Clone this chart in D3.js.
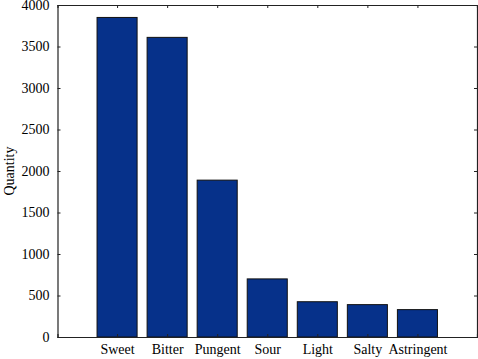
<!DOCTYPE html>
<html>
<head>
<meta charset="utf-8">
<script src="https://cdn.jsdelivr.net/npm/d3@7"></script>
<style>
  body { margin: 0; background: #fff; }
  svg text { font-family: "Liberation Serif", "DejaVu Serif", serif; fill: #000; }
</style>
</head>
<body>
<div id="chart"></div>
<script>
const categories = ["Sweet", "Bitter", "Pungent", "Sour", "Light", "Salty", "Astringent"];
const quantities = [3850, 3610, 1890, 700, 425, 390, 330];
const yTicks = [0, 500, 1000, 1500, 2000, 2500, 3000, 3500, 4000];

const margin = { top: 5, right: 1, bottom: 22, left: 57.5 },
  width = 478 - margin.left - margin.right,
  height = 359 - margin.top - margin.bottom;

const svg = d3
  .select("#chart")
  .append("svg")
  .attr("width", 478)
  .attr("height", 359)
  .append("g")
  .attr("transform", `translate(${margin.left},${margin.top})`);

// bars sit at positions 1..7, axis runs a bit wider like the original
const x = d3.scaleLinear().domain([-0.19, 8.19]).range([0, width]);
const y = d3.scaleLinear().domain([0, 4000]).range([height, 0]);
const barW = x(0.8) - x(0);

svg
  .selectAll("rect.bar")
  .data(quantities)
  .join("rect")
  .attr("class", "bar")
  .attr("x", (d, i) => x(i + 1) - barW / 2)
  .attr("y", (d) => y(d))
  .attr("width", barW)
  .attr("height", (d) => height - y(d))
  .attr("fill", "#06318a")
  .attr("stroke", "#111")
  .attr("stroke-width", 1);

const pos = categories.map((c, i) => i + 1);

// bottom axis
svg
  .append("g")
  .attr("transform", `translate(0, ${height})`)
  .call(
    d3.axisBottom(x).tickValues(pos).tickSize(-3).tickPadding(7)
      .tickFormat((d) => categories[d - 1])
  );
// top axis
svg.append("g").call(d3.axisTop(x).tickValues(pos).tickSize(-3).tickFormat(""));
// left axis
svg
  .append("g")
  .call(d3.axisLeft(y).tickValues(yTicks).tickSize(-3).tickPadding(8).tickFormat(d3.format("d")));
// right axis
svg
  .append("g")
  .attr("transform", `translate(${width}, 0)`)
  .call(d3.axisRight(y).tickValues(yTicks).tickSize(-3).tickFormat(""));

svg.selectAll(".domain").attr("stroke", "#222").attr("stroke-width", 1.2);
svg.selectAll(".tick line").attr("stroke", "#222");
svg.selectAll(".tick text").attr("font-size", 14).attr("font-family", "Liberation Serif, serif");

svg
  .append("text")
  .attr("transform", "rotate(-90)")
  .attr("x", -height / 2)
  .attr("y", -margin.left + 14)
  .attr("text-anchor", "middle")
  .attr("font-size", 14)
  .text("Quantity");
</script>
</body>
</html>
